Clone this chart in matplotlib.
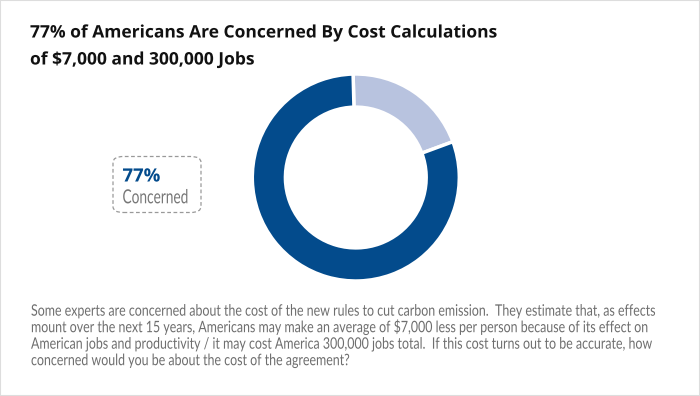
import matplotlib
matplotlib.use('Agg')
import matplotlib.pyplot as plt
from matplotlib.patches import FancyBboxPatch, Rectangle
from matplotlib.patheffects import AbstractPathEffect
from matplotlib.transforms import Affine2D

W, H = 700, 396

# survey result (share of respondents)
labels = ['Not concerned', 'Concerned']
values = [19, 77]
colors = ['#b8c3df', '#034b8c']

title_lines = ['77% of Americans Are Concerned By Cost Calculations',
               r'of \$7,000 and 300,000 Jobs']
body_lines = [
    'Some experts are concerned about the cost of the new rules to cut carbon emission.  They estimate that, as effects',
    r'mount over the next 15 years, Americans may make an average of \$7,000 less per person because of its effect on',
    'American jobs and productivity / it may cost America 300,000 jobs total.  If this cost turns out to be accurate, how',
    'concerned would you be about the cost of the agreement?',
]
callout_value = '77%'
callout_label = 'Concerned'


class Squeeze(AbstractPathEffect):
    """Scale glyphs horizontally about the text origin (no condensed fonts here)."""

    def __init__(self, sx):
        super().__init__()
        self.sx = sx

    def draw_path(self, renderer, gc, tpath, affine, rgbFace=None):
        renderer.draw_path(gc, tpath, Affine2D().scale(self.sx, 1) + affine, rgbFace)


def px(x, y):
    return x / W, 1 - y / H


fig = plt.figure(figsize=(W / 100, H / 100), dpi=100)
fig.patch.set_facecolor('white')

# thin frame round the card
fig.add_artist(Rectangle((0, 0), 1, 1, transform=fig.transFigure, fill=False,
                         edgecolor='#dddddd', linewidth=1.5))

# donut
cx, cy, r = 355.8, 177.5, 103.5
ax = fig.add_axes([(cx - r) / W, 1 - (cy + r) / H, 2 * r / W, 2 * r / H])
ax.pie(values, colors=colors, startangle=91.5, counterclock=False, radius=1,
       wedgeprops=dict(width=0.32, edgecolor='white', linewidth=2.5))
ax.set_xlim(-1, 1)
ax.set_ylim(-1, 1)
ax.set_aspect('equal')
ax.axis('off')

# title
title_texts = []
for i, line in enumerate(title_lines):
    title_texts.append(fig.text(*px(30, 37.5 + i * 27), line, fontsize=12.4,
                                fontweight='bold', family='Open Sans',
                                color='#111111', va='baseline'))

# callout box
fig.add_artist(FancyBboxPatch(px(113, 212.5), 88 / W, 56 / H,
                              boxstyle='round,pad=0,rounding_size=0.015',
                              transform=fig.transFigure, fill=False,
                              edgecolor='#999999', linewidth=0.9,
                              linestyle=(0, (3, 2))))
t_val = fig.text(*px(122.5, 181.5), callout_value, fontsize=13.2,
                 fontweight='bold', family='Open Sans', color=colors[1],
                 va='baseline')
t_lab = fig.text(*px(122.5, 203.3), callout_label, fontsize=14,
                 family='Lato', color='#777777', va='baseline')

# question text
body_texts = []
for i, line in enumerate(body_lines):
    body_texts.append(fig.text(*px(31, 315.7 + i * 16.5), line, fontsize=11.4,
                               family='Lato', color='#6e6e6e', va='baseline'))

# squeeze / stretch each text block to the widths in the reference
renderer = fig.canvas.get_renderer()


def fit(texts, target):
    sx = target / texts[0].get_window_extent(renderer).width
    for t in texts:
        t.set_path_effects([Squeeze(sx)])


fit(title_texts, 468)
fit([t_val], 38)
fit([t_lab], 66)
fit(body_texts, 627)

fig.savefig('out.png', dpi=100)
